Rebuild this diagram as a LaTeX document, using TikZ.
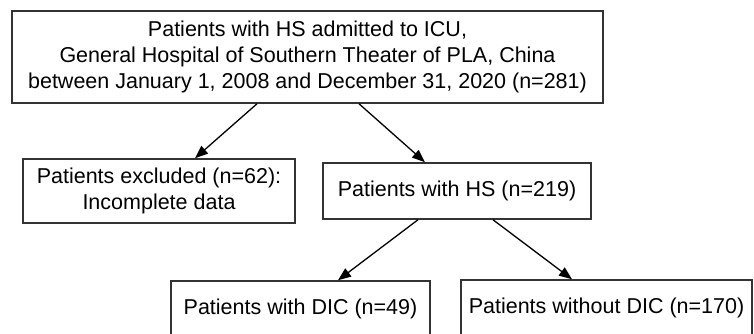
\documentclass[tikz,border=0pt]{standalone}
\usepackage{fontspec}
\setmainfont{Liberation Sans}
\usetikzlibrary{arrows.meta}
\tikzset{%
  b/.style = {rectangle,draw=black!80,line width=1.5pt,align=center,
        font=\fontsize{21.5}{26}\selectfont,inner sep=0pt},
  flowarrow/.style = {-{Triangle[length=13pt,width=10pt]},line width=1.3pt}
}

\begin{document}
\begin{tikzpicture}[x=1pt,y=1pt]
        \useasboundingbox (0,0) rectangle (754,-333);
        % cohort boxes
        \node[b,minimum width=591pt,minimum height=92pt] (all) at (307.5,-57)
            {Patients with HS admitted to ICU,\\
             General Hospital of Southern Theater of PLA, China\\
             between January 1, 2008 and December 31, 2020 (n=281)};
        \node[b,minimum width=272pt,minimum height=64pt] (excl) at (159,-191)
            {Patients excluded (n=62):\\Incomplete data};
        \node[b,minimum width=268pt,minimum height=56pt] (hs) at (457,-191)
            {Patients with HS (n=219)};
        \node[b,minimum width=259pt,minimum height=56pt] (dic) at (300.5,-309)
            {Patients with DIC (n=49)};
        \node[b,minimum width=291pt,minimum height=56pt] (nodic) at (606.5,-308)
            {Patients without DIC (n=170)};
        % arrows
        \draw[flowarrow] ([xshift=-50.5pt]all.south) to ([xshift=36pt]excl.north);
        \draw[flowarrow] ([xshift=51.5pt]all.south) to ([xshift=-32pt]hs.north);
        \draw[flowarrow] ([xshift=-39pt]hs.south) to ([xshift=37.5pt]dic.north);
        \draw[flowarrow] ([xshift=36pt]hs.south) to ([xshift=-34.5pt]nodic.north);
    \end{tikzpicture}
\end{document}
